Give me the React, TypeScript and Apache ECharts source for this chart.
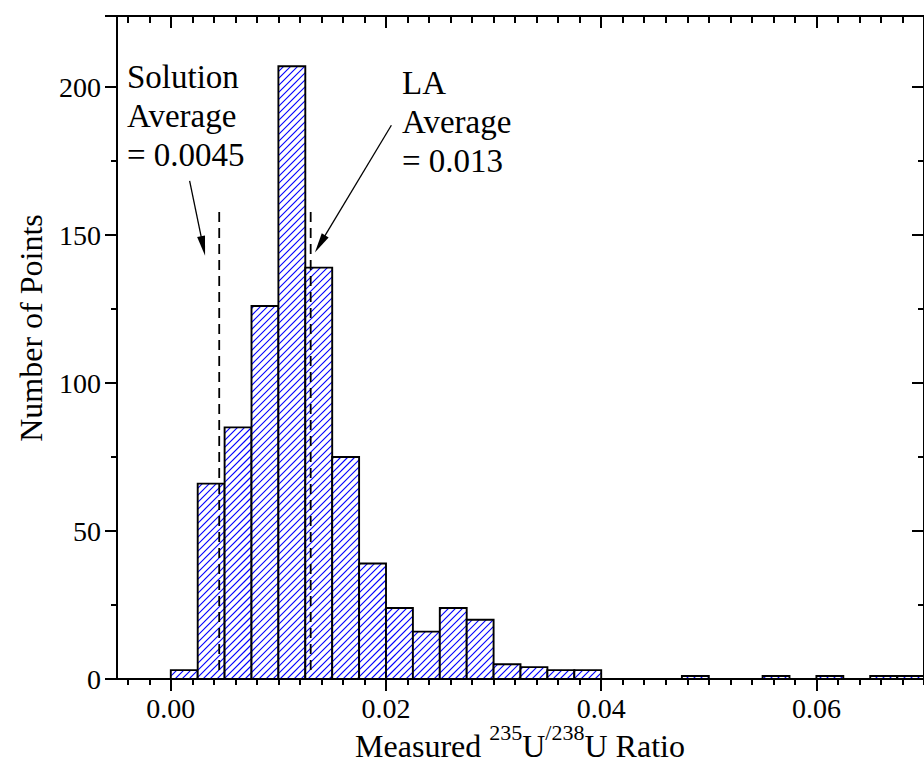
import React, { useEffect, useRef } from "react";
import * as echarts from "echarts";

// Histogram bins (left edges) of the measured 235U/238U ratio and their counts
const binStarts = [
  0.0, 0.0025, 0.005, 0.0075, 0.01, 0.0125, 0.015, 0.0175, 0.02, 0.0225,
  0.025, 0.0275, 0.03, 0.0325, 0.035, 0.0375, 0.04, 0.0425, 0.045, 0.0475,
  0.05, 0.0525, 0.055, 0.0575, 0.06, 0.0625, 0.065, 0.0675,
];
const binWidth = 0.0025;
const counts = [
  3, 66, 85, 126, 207, 139, 75, 39, 24, 16,
  24, 20, 5, 4, 3, 3, 0, 0, 0, 1,
  0, 0, 1, 0, 1, 0, 1, 1,
];

// Vertical dashed average lines
const averageNames = ["Solution", "LA"];
const averageValues = [0.0045, 0.013];
const averageSpan = [3, 159];

// Annotation arrows (start -> end, in data units)
const arrowStarts = [
  [0.00175, 168.3],
  [0.0205, 187.1],
];
const arrowEnds = [
  [0.003, 146.3],
  [0.01387, 147.0],
];
const annotationTexts = ["Solution\nAverage\n= 0.0045", "LA\nAverage\n= 0.013"];

// Axis ticks
const xMin = -0.005;
const xMax = 0.07;
const xMajorTicks = [0, 0.02, 0.04, 0.06];
const xMinorTicks: number[] = [];
for (let i = -2; i <= 35; i++) xMinorTicks.push(Math.round(i * 2) / 1000);
const yMin = 0;
const yMax = 224;
const yInterval = 50;

const FONT = "'Liberation Serif', 'Times New Roman', Times, serif";

export default function App() {
  const ref = useRef<HTMLDivElement>(null);

  useEffect(() => {
    if (!ref.current) return;
    const chart = echarts.init(ref.current, null, { renderer: "svg" });

    const axisLine = { show: true, onZero: false, lineStyle: { color: "#000", width: 2 } };
    const noLine = { show: false, onZero: false };
    const tickStyle = { color: "#000", width: 2 };
    const gridRect = { left: 117, top: 16, width: 816, height: 663 };

    const histData = binStarts.map((b, i) => [b, b + binWidth, counts[i]]);

    const renderItem = (params: any, api: any) => {
      const x0 = api.value(0);
      const x1 = api.value(1);
      const c = api.value(2);
      if (!c) return null;
      const tl = api.coord([x0, c]);
      const br = api.coord([x1, 0]);
      const rx = tl[0];
      const ry = tl[1];
      const rw = br[0] - tl[0];
      const rh = br[1] - tl[1];
      const children: any[] = [
        {
          type: "rect",
          shape: { x: rx, y: ry, width: rw, height: rh },
          style: { fill: "#ffffff", stroke: "none", lineWidth: 0 },
        },
      ];
      const s = 7;
      const cStart = Math.ceil((rx + ry) / s) * s;
      const cEnd = rx + rw + ry + rh;
      for (let cc = cStart; cc <= cEnd; cc += s) {
        const xa = Math.max(rx, cc - (ry + rh));
        const xb = Math.min(rx + rw, cc - ry);
        if (xb > xa) {
          children.push({
            type: "line",
            shape: { x1: xa, y1: cc - xa, x2: xb, y2: cc - xb },
            style: { stroke: "#0000ff", lineWidth: 1.1, fill: "none" },
          });
        }
      }
      children.push({
        type: "rect",
        shape: { x: rx, y: ry, width: rw, height: rh },
        style: { fill: "none", stroke: "#000000", lineWidth: 1.9 },
      });
      return { type: "group", children };
    };

    const avgSeries = averageValues.map((v, i) => ({
      name: averageNames[i] + " Average",
      type: "line",
      xAxisIndex: 0,
      yAxisIndex: 0,
      symbol: "none",
      silent: true,
      z: 5,
      lineStyle: { color: "#000", width: 1.8, type: [10, 6] },
      data: [
        [v, averageSpan[0]],
        [v, averageSpan[1]],
      ],
      markLine:
        i === 0
          ? {
              silent: true,
              symbol: ["none", "triangle"],
              symbolSize: [8, 20],
              label: { show: false },
              lineStyle: { color: "#000", width: 1.3, type: "solid" },
              data: arrowStarts.map((st, k) => [
                { coord: st },
                { coord: arrowEnds[k] },
              ]),
            }
          : undefined,
    }));

    chart.setOption({
      animation: false,
      backgroundColor: "#fff",
      grid: [{ ...gridRect }, { ...gridRect }],
      xAxis: [
        {
          gridIndex: 0,
          type: "value",
          position: "bottom",
          min: xMin,
          max: xMax,
          axisLine,
          axisTick: {
            show: true,
            customValues: xMajorTicks,
            length: 12,
            inside: false,
            lineStyle: tickStyle,
          },
          axisLabel: {
            show: true,
            customValues: xMajorTicks,
            formatter: (v: number) => v.toFixed(2),
            margin: 15,
            fontSize: 28,
            color: "#000",
            fontFamily: FONT,
          },
          splitLine: { show: false },
        },
        {
          gridIndex: 0,
          type: "value",
          position: "top",
          min: xMin,
          max: xMax,
          axisLine,
          axisTick: {
            show: true,
            customValues: xMajorTicks,
            length: 12,
            inside: true,
            lineStyle: tickStyle,
          },
          axisLabel: { show: false },
          splitLine: { show: false },
        },
        {
          gridIndex: 1,
          type: "value",
          position: "bottom",
          min: xMin,
          max: xMax,
          axisLine: noLine,
          axisTick: {
            show: true,
            customValues: xMinorTicks,
            length: 6,
            inside: false,
            lineStyle: tickStyle,
          },
          axisLabel: { show: false },
          splitLine: { show: false },
        },
        {
          gridIndex: 1,
          type: "value",
          position: "top",
          min: xMin,
          max: xMax,
          axisLine: noLine,
          axisTick: {
            show: true,
            customValues: xMinorTicks,
            length: 7,
            inside: true,
            lineStyle: tickStyle,
          },
          axisLabel: { show: false },
          splitLine: { show: false },
        },
      ],
      yAxis: [
        {
          gridIndex: 0,
          type: "value",
          position: "left",
          min: yMin,
          max: yMax,
          interval: yInterval,
          axisLine,
          axisTick: { show: true, length: 12, inside: false, lineStyle: tickStyle },
          minorTick: { show: true, splitNumber: 2, length: 6, lineStyle: tickStyle },
          axisLabel: {
            show: true,
            showMaxLabel: false,
            margin: 16,
            fontSize: 28,
            color: "#000",
            fontFamily: FONT,
          },
          splitLine: { show: false },
          minorSplitLine: { show: false },
        },
        {
          gridIndex: 0,
          type: "value",
          position: "right",
          min: yMin,
          max: yMax,
          interval: yInterval,
          axisLine,
          axisTick: { show: true, length: 12, inside: true, lineStyle: tickStyle },
          minorTick: { show: true, splitNumber: 2, length: 6, lineStyle: tickStyle },
          axisLabel: { show: false },
          splitLine: { show: false },
        },
        { gridIndex: 1, type: "value", min: yMin, max: yMax, show: false },
        { gridIndex: 1, type: "value", min: yMin, max: yMax, show: false, position: "right" },
      ],
      series: [
        {
          name: "Number of Points",
          type: "custom",
          xAxisIndex: 0,
          yAxisIndex: 0,
          renderItem,
          encode: { x: [0, 1], y: 2 },
          data: histData,
          clip: true,
          z: 2,
        },
        ...avgSeries,
      ],
      graphic: [
        {
          type: "text",
          x: 127,
          y: 57,
          style: {
            text: annotationTexts[0],
            fontSize: 33,
            lineHeight: 39,
            fontFamily: FONT,
            fill: "#000",
            align: "left",
            verticalAlign: "top",
          },
        },
        {
          type: "text",
          x: 402,
          y: 63,
          style: {
            text: annotationTexts[1],
            fontSize: 33,
            lineHeight: 39,
            fontFamily: FONT,
            fill: "#000",
            align: "left",
            verticalAlign: "top",
          },
        },
        {
          type: "text",
          x: 31,
          y: 328,
          rotation: Math.PI / 2,
          style: {
            text: "Number of Points",
            fontSize: 32,
            fontFamily: FONT,
            fill: "#000",
            align: "center",
            verticalAlign: "middle",
          },
        },
        {
          type: "text",
          x: 520,
          y: 721,
          style: {
            text: "{m|Measured }{s|235}{m|U}{s|/238}{m|U Ratio}",
            fontFamily: FONT,
            fill: "#000",
            align: "center",
            verticalAlign: "top",
            rich: {
              m: { fontSize: 32, lineHeight: 50, fontFamily: FONT, fill: "#000" },
              s: {
                fontSize: 22,
                lineHeight: 22,
                verticalAlign: "top",
                fontFamily: FONT,
                fill: "#000",
              },
            },
          },
        },
      ],
    });

    return () => chart.dispose();
  }, []);

  return (
    <div
      ref={ref}
      style={{ position: "absolute", left: 0, top: 0, width: 924, height: 776 }}
    />
  );
}
